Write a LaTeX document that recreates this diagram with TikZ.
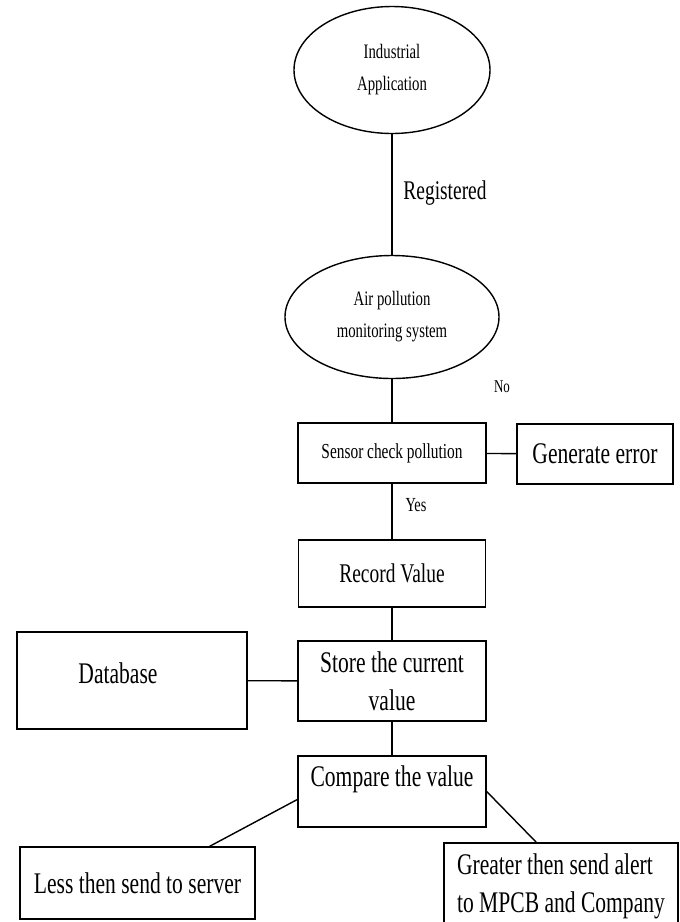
\documentclass[tikz,border=0pt]{standalone}
\usepackage{fontspec}
\setmainfont[FakeStretch=0.72]{Liberation Serif}
\usetikzlibrary{shapes.geometric}

\begin{document}
\begin{tikzpicture}[line width=1pt,nodes={draw, line width=1pt, inner sep=0pt},
    oval/.style={ellipse, align=center, font=\fontsize{14.6}{22.8}\selectfont},
    box/.style={rectangle, align=center, font=\fontsize{21.3}{27}\selectfont},
    boxsmall/.style={box, font=\fontsize{15.2}{18}\selectfont},
    boxmid/.style={box, font=\fontsize{19.2}{24}\selectfont},
    lbl/.style={draw=none}]

      \useasboundingbox (0,0) rectangle (17,-23.05);
      \clip (0,0) rectangle (17,-23.05);

      \node[oval, minimum width=4.9cm, minimum height=3.175cm] (indapp) at (9.8,-1.75) {Industrial\\Application};
      \node[oval, minimum width=5.35cm, minimum height=3.075cm] (airsys) at (9.8,-7.925) {Air pollution\\monitoring system};

      \node[boxsmall, minimum width=4.7cm, minimum height=1.5cm] (sensor) at (9.8,-11.325) {Sensor check pollution};
      \node[box, minimum width=3.9cm, minimum height=1.5cm] (generr) at (14.875,-11.35) {Generate error};
      \node[boxmid, minimum width=4.675cm, minimum height=1.675cm] (record) at (9.8,-14.3375) {Record Value};
      \node[box, minimum width=4.7cm, minimum height=2cm] (store) at (9.8,-17.025) {Store the current\\value};
      \node[box, minimum width=5.75cm, text height=1.275cm, text depth=1.15cm] (database) at (3.3,-17.0125) {Database\hspace*{0.7cm}};
      \node[box, minimum width=4.7cm, text height=0.75cm, text depth=1.025cm] (compare) at (9.8,-19.7875) {Compare the value};

      \node[box, minimum width=5.875cm, minimum height=1.8cm] (lesssrv) at (3.4375,-22.075) {Less then send to server};
      \node[box, align=left, minimum width=5.85cm, minimum height=2.15cm] (greatalert) at (14.025,-22.15) {Greater then send alert\\to MPCB and Company};

      \node[lbl, font=\fontsize{19.2}{24}\selectfont] (regtxt) at (11.125,-4.825) {Registered};
      \node[lbl, font=\fontsize{12.8}{15}\selectfont] (notxt) at (12.55,-9.675) {No};
      \node[lbl, font=\fontsize{14.2}{17}\selectfont] (yestxt) at (10.4,-12.625) {Yes};

  \foreach \from/\to in {indapp/airsys, airsys/sensor, sensor/generr, sensor/record, record/store, database/store, store/compare}
     \draw (\from) -- (\to);

      \draw ([yshift=-0.2cm]compare.west) -- ([xshift=-1.15cm]lesssrv.north east);
      \draw (compare.east) -- ([xshift=2.325cm]greatalert.north west);

\end{tikzpicture}
\end{document}
